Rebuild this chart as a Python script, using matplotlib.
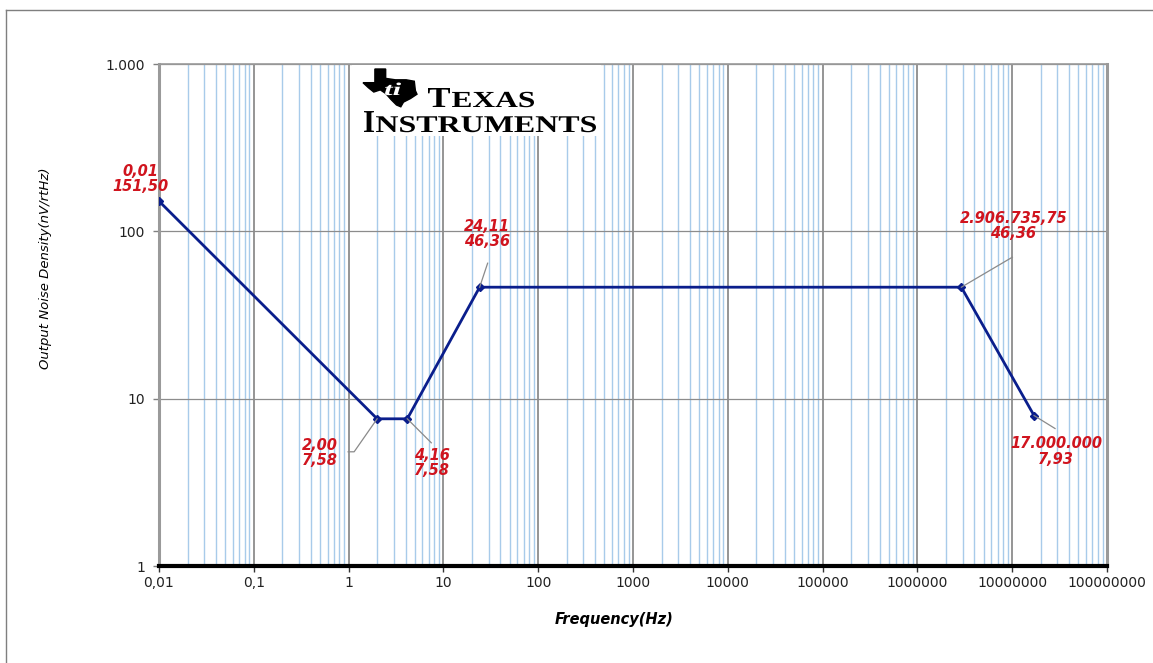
import matplotlib
matplotlib.use("Agg")
import matplotlib.pyplot as plt
from matplotlib.ticker import FixedLocator, FixedFormatter, LogLocator, NullFormatter
from matplotlib.patches import Polygon, Rectangle, PathPatch
from matplotlib.lines import Line2D
from matplotlib.textpath import TextPath
from matplotlib.font_manager import FontProperties
from matplotlib.transforms import Affine2D, IdentityTransform, offset_copy

# ---- data ----
freq = [0.01, 2.00, 4.16, 24.11, 2906735.75, 17000000]
noise = [151.50, 7.58, 7.58, 46.36, 46.36, 7.93]
point_labels = ["0,01\n151,50", "2,00\n7,58", "4,16\n7,58", "24,11\n46,36",
                "2.906.735,75\n46,36", "17.000.000\n7,93"]
x_ticks = [0.01, 0.1, 1, 10, 100, 1000, 1e4, 1e5, 1e6, 1e7, 1e8]
x_tick_labels = ["0,01", "0,1", "1", "10", "100", "1000", "10000", "100000",
                 "1000000", "10000000", "100000000"]
y_ticks = [1, 10, 100, 1000]
y_tick_labels = ["1", "10", "100", "1.000"]

W, H = 1153, 663
fig = plt.figure(figsize=(W / 100, H / 100), dpi=100)
fig.patch.set_facecolor("white")
ax = fig.add_axes([159 / W, 1 - 566 / H, (1107 - 159) / W, (566 - 64) / H])

ax.set_xscale("log")
ax.set_yscale("log")
ax.set_xlim(0.01, 1e8)
ax.set_ylim(1, 1000)

# grid
ax.xaxis.set_major_locator(FixedLocator(x_ticks))
ax.xaxis.set_major_formatter(FixedFormatter(x_tick_labels))
ax.xaxis.set_minor_locator(LogLocator(base=10, subs=range(2, 10), numticks=100))
ax.xaxis.set_minor_formatter(NullFormatter())
ax.yaxis.set_major_locator(FixedLocator(y_ticks))
ax.yaxis.set_major_formatter(FixedFormatter(y_tick_labels))
ax.yaxis.set_minor_locator(FixedLocator([]))

ax.grid(True, which="minor", axis="x", color="#A8CBEA", lw=1.0, zorder=0)
ax.grid(True, which="major", axis="x", color="#8C8C8C", lw=1.3, zorder=0)
ax.grid(True, which="major", axis="y", color="#8C8C8C", lw=0.9, zorder=0)
ax.set_axisbelow(True)

ax.tick_params(axis="x", which="major", length=4, width=1, color="#333333",
               labelsize=10, pad=3, labelcolor="#222222")
ax.tick_params(axis="x", which="minor", length=0)
ax.tick_params(axis="y", which="major", length=4, width=1, color="#808080",
               labelsize=10, pad=6, labelcolor="#222222")

for s in ["top", "right", "left"]:
    ax.spines[s].set_color("#9A9A9A")
ax.spines["top"].set_linewidth(1.2)
ax.spines["right"].set_linewidth(2.2)
ax.spines["left"].set_linewidth(2.2)
ax.spines["bottom"].set_color("black")
ax.spines["bottom"].set_linewidth(3)

# data line
ax.plot(freq, noise, color="#0A1E8C", lw=2, marker="D", ms=4, zorder=5)

# labels (offsets in pixels: label center, leader path)
label_offsets = [(-19, 22, None), (-57, -34, [(-23, -33), (-29, -33)]),
                 (25, -44, [(24, -24)]), (7, 53, [(8, 24)]),
                 (52, 61, [(51, 30)]), (22, -36, [(21, -13)])]
px = 0.72
fig.canvas.draw()
for (fx, ny, lab, (dx, dy, lead)) in zip(freq, noise, point_labels, label_offsets):
    if lead:
        pts = [(0, 0)] + lead
        xs, ys = [], []
        for (a, b) in pts:
            t = offset_copy(ax.transData, fig=fig, x=a * px, y=b * px, units="points")
            xy = t.transform((fx, ny))
            xs.append(xy[0])
            ys.append(xy[1])
        fig.add_artist(Line2D(xs, ys, transform=IdentityTransform(),
                              color="#8A8A8A", lw=0.9, zorder=4))
    ax.annotate(lab, xy=(fx, ny), xycoords="data", xytext=(dx * px, dy * px),
                textcoords="offset points", ha="center", va="center",
                color="#D0141E", fontsize=10.5, fontweight="bold", fontstyle="italic",
                linespacing=1.05, zorder=6, annotation_clip=False)

# axis labels
ax.set_xlabel("Frequency(Hz)", fontsize=10.5, fontweight="bold", fontstyle="italic")
ax.xaxis.set_label_coords((614 - 159) / 948, (566 - 612) / 502)
ax.set_ylabel("Output Noise Density(nV/rtHz)", fontsize=9.5, fontstyle="italic")
ax.yaxis.set_label_coords((52 - 159) / 948, (566 - 268) / 502)


# ---- Texas Instruments logo (decoration) ----
def fx_(x):
    return x / W


def fy_(y):
    return 1 - y / H


fig.add_artist(Rectangle((fx_(352), fy_(136)), (601 - 352) / W, (136 - 65) / H,
                         transform=fig.transFigure, facecolor="white",
                         edgecolor="none", zorder=3))

tex = [(0.22, 1.0), (0.42, 1.0), (0.42, 0.74), (0.60, 0.70), (0.80, 0.70),
       (0.95, 0.66), (0.97, 0.40), (1.0, 0.30), (0.88, 0.18), (0.75, 0.08),
       (0.70, -0.05), (0.62, 0.0), (0.52, 0.15), (0.42, 0.32), (0.32, 0.42),
       (0.20, 0.36), (0.10, 0.48), (0.0, 0.62), (0.22, 0.62)]
x0, y0, sw, sh = 363, 105, 54, 36
poly = [(fx_(x0 + a * sw), fy_(y0 - b * sh)) for a, b in tex]
fig.add_artist(Polygon(poly, closed=True, transform=fig.transFigure,
                       facecolor="black", edgecolor="black", zorder=4))

serif_b = FontProperties(family="Liberation Serif", weight="bold")
serif_bi = FontProperties(family="Liberation Serif", weight="bold", style="italic")


def draw_path_text(s, left, right, baseline, size, prop, color="black"):
    tp = TextPath((0, 0), s, size=size, prop=prop)
    ext = tp.get_extents()
    sx = (right - left) / ext.width
    tr = Affine2D().translate(-ext.x0, 0).scale(sx, 1).translate(left, H - baseline)
    path = tr.transform_path(tp)
    fig.add_artist(PathPatch(path, transform=IdentityTransform(), facecolor=color,
                             edgecolor="none", zorder=5))


draw_path_text("ti", 385, 401, 95, 18, serif_bi, color="white")
draw_path_text("T", 428, 450, 107, 29, serif_b)
draw_path_text("EXAS", 452, 534, 107, 23, serif_b)
draw_path_text("I", 364, 374, 132, 32, serif_b)
draw_path_text("NSTRUMENTS", 376, 596, 132, 24, serif_b)

# figure border (top and left)
fig.add_artist(Line2D([fx_(6), 1.0], [fy_(10), fy_(10)], transform=fig.transFigure,
                      color="#7F7F7F", lw=1))
fig.add_artist(Line2D([fx_(6), fx_(6)], [fy_(10), 0.0], transform=fig.transFigure,
                      color="#7F7F7F", lw=1))

fig.savefig("out.png", dpi=100)
